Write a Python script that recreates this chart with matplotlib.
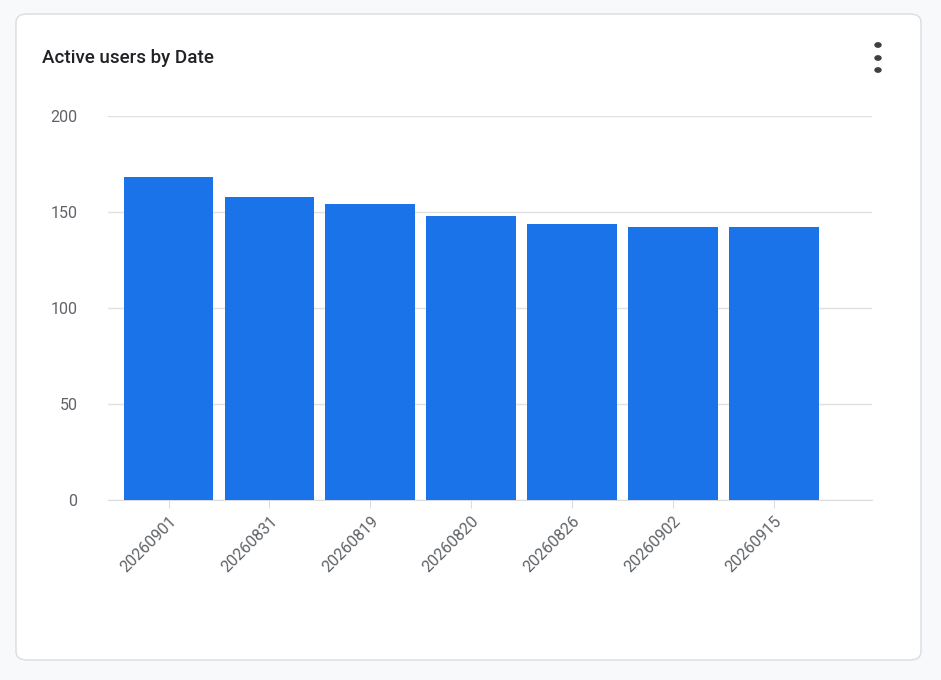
import matplotlib
matplotlib.use("Agg")
import matplotlib.pyplot as plt
from matplotlib.patches import FancyBboxPatch, Circle

dates = ["20260901", "20260831", "20260819", "20260820", "20260826", "20260902", "20260915"]
active_users = [168, 158, 154, 148, 144, 142, 142]
y_ticks = [0, 50, 100, 150, 200]

plt.rcParams['font.family'] = ['Roboto', 'DejaVu Sans']
W, H = 941, 680
fig = plt.figure(figsize=(W/100, H/100), dpi=100)
fig.patch.set_facecolor('#f8f9fa')

card = FancyBboxPatch((16/W, (H-660)/H), (921-16)/W, (660-14)/H,
                      boxstyle="round,pad=0,rounding_size=0.012",
                      transform=fig.transFigure, facecolor='white',
                      edgecolor='#dadce0', linewidth=1, zorder=-10)
fig.patches.append(card)
fig.text(42/W, 1-58/H, "Active users by Date", fontsize=13.5, color='#202124',
         va='center', fontweight='medium')
for yy in (45, 58, 70):
    fig.patches.append(Circle((878/W, 1-yy/H), 3/W, transform=fig.transFigure,
                              color='#3c4043'))

ax = fig.add_axes([108/W, 1-500/H, 764/W, 384/H])
ax.set_facecolor('none')
x = range(len(dates))
ax.bar(x, active_users, width=0.89, color='#1a73e8', zorder=3)
ax.set_xlim(-0.6, 6.97)
ax.set_ylim(0, 200)
ax.set_yticks(y_ticks)
ax.grid(axis='y', color='#e0e0e0', linewidth=1, zorder=0)
ax.set_axisbelow(True)
for s in ['top', 'right', 'left']:
    ax.spines[s].set_visible(False)
ax.spines['bottom'].set_color('#dadce0')
ax.tick_params(axis='y', length=0, labelsize=11.5, labelcolor='#5f6368', pad=22)
ax.tick_params(axis='x', length=6, color='#dadce0', labelsize=11.5, labelcolor='#5f6368')
ax.set_xticks(list(x))
ax.set_xticklabels(dates, rotation=45, ha='right', rotation_mode='anchor')
fig.savefig("out.png", dpi=100, facecolor=fig.get_facecolor())
